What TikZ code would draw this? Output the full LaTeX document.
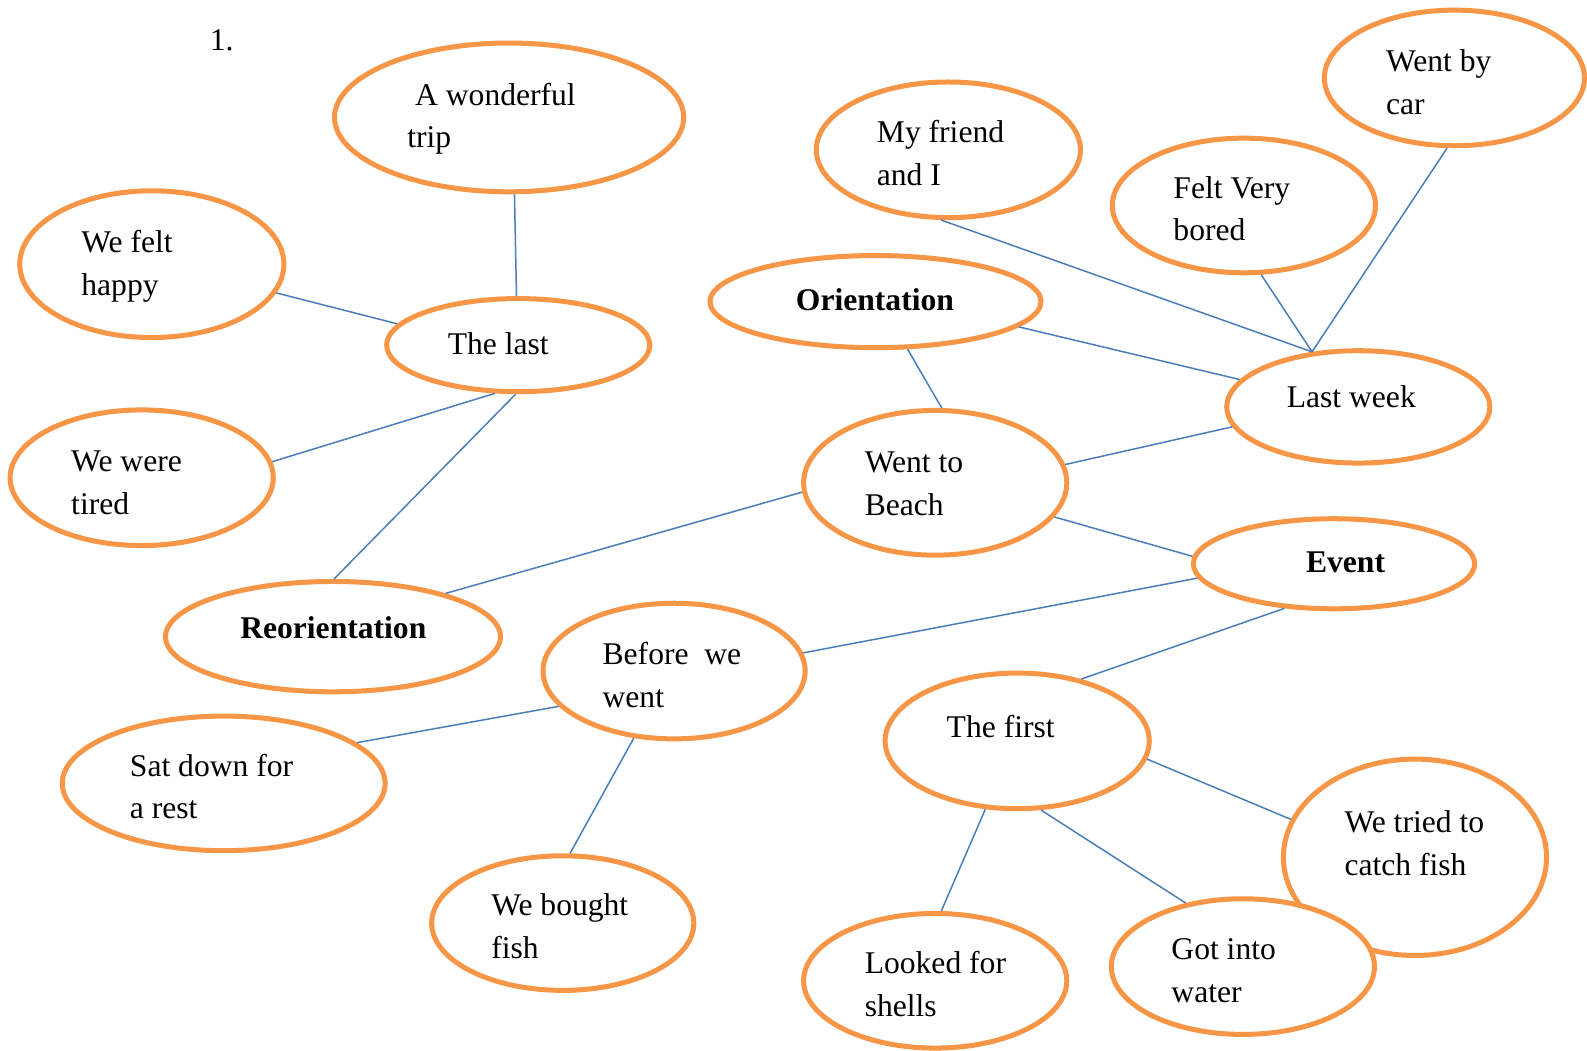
\documentclass[tikz,border=0pt]{standalone}
\usepackage{fontspec}
\setmainfont{Liberation Serif}
\usetikzlibrary{shapes.geometric}
\definecolor{rimorange}{HTML}{F79646}
\definecolor{linkblue}{HTML}{4A7EBB}
\newcommand\pxu{0.50606pt}
\tikzset{
  bubble/.style 2 args={ellipse, draw=rimorange, line width=2.5pt, fill=white,
    inner sep=0pt, minimum width={#1*\pxu}, minimum height={#2*\pxu}},
  % anchored at the baseline of the last line
  word/.style={anchor=base west, align=left, inner sep=0pt,
    font=\fontsize{15.8}{21.3}\selectfont},
  boldword/.style={word, font=\fontsize{15.8}{21.3}\selectfont\bfseries},
  link/.style={draw=linkblue, line width=0.75pt},
}
\begin{document}
\begin{tikzpicture}[x=0.50606pt, y=-0.50606pt]
\fill[white] (0,0) rectangle (1568,1038);
\useasboundingbox (0,0) rectangle (1568,1038);

% ellipses
\node[bubble={345}{147}] (trip)     at (503,116) {};
\node[bubble={261}{145}] (happy)    at (150,261) {};
\node[bubble={260}{92}]  (thelast)  at (512,341) {};
\node[bubble={260}{134}] (tired)    at (140,472) {};
\node[bubble={331}{109}] (reorient) at (329,629) {};
\node[bubble={261}{134}] (friend)   at (937,148) {};
\node[bubble={257}{134}] (car)      at (1437,77) {};
\node[bubble={260}{133}] (bored)    at (1229,203) {};
\node[bubble={327}{91}]  (orient)   at (865,298) {};
\node[bubble={260}{111}] (lastweek) at (1342,402) {};
\node[bubble={260}{143}] (beach)    at (924,477) {};
\node[bubble={278}{89}]  (event)    at (1318,557) {};
\node[bubble={259}{134}] (before)   at (666,663) {};
\node[bubble={319}{133}] (satdown)  at (221,774) {};
\node[bubble={259}{133}] (bought)   at (556,912) {};
\node[bubble={261}{134}] (thefirst) at (1005,732) {};
\node[bubble={260}{194}] (tried)    at (1398,847) {};
\node[bubble={260}{134}] (water)    at (1228,955) {};
\node[bubble={260}{133}] (shells)   at (924,969) {};

% texts
\node[word] (num) at (207,50) {1.};
\node[word] (trip-t) at (402,146) {\ A wonderful\\trip};
\node[word] (happy-t) at (80,292) {We felt\\happy};
\node[word] (thelast-t) at (442,350) {The last};
\node[word] (tired-t) at (70,508) {We were\\tired};
\node[boldword] (reorient-t) at (237,631) {Reorientation};
\node[word] (friend-t) at (866,183) {My friend\\and I};
\node[word] (car-t) at (1369,113) {Went by\\car};
\node[word] (bored-t) at (1159,238) {Felt Very\\bored};
\node[boldword] (orient-t) at (786,307) {Orientation};
\node[word] (lastweek-t) at (1271,403) {Last week};
\node[word] (beach-t) at (854,509) {Went to\\Beach};
\node[boldword] (event-t) at (1290,566) {Event};
\node[word] (before-t) at (595,699) {Before\ \ we\\went};
\node[word] (satdown-t) at (128,809) {Sat down for\\a rest};
\node[word] (bought-t) at (485,947) {We bought\\fish};
\node[word] (thefirst-t) at (935,729) {The first};
\node[word] (tried-t) at (1328,865) {We tried to\\catch fish};
\node[word] (water-t) at (1157,990) {Got into\\water};
\node[word] (shells-t) at (854,1004) {Looked for\\shells};

% connectors
\draw[link] (trip.-86) -- (thelast.92);
\draw[link] (happy.-13) -- (thelast.170);
\draw[link] (tired.7) -- (thelast.244);
\draw[link] (thelast.267) -- (reorient.89);
\draw[link] (reorient.21) -- (beach.184);
\draw[link] (orient.-56) -- (beach.85);
\draw[link] (orient.-10) -- (lastweek.167);
\draw[link] (friend.-96) -- (lastweek.130);
\draw[link] (bored.-76) -- (lastweek.130);
\draw[link] (car.-96) -- (lastweek.130);
\draw[link] (beach.8) -- (lastweek.189);
\draw[link] (beach.-16) -- (event.177);
\draw[link] (event.186) -- (before.8);
\draw[link] (event.222) -- (thefirst.44);
\draw[link] (before.197) -- (satdown.17);
\draw[link] (before.239) -- (bought.84);
\draw[link] (thefirst.-8) -- (tried.163);
\draw[link] (thefirst.245) -- (shells.85);
\draw[link] (thefirst.-71) -- (water.132);
\end{tikzpicture}
\end{document}
